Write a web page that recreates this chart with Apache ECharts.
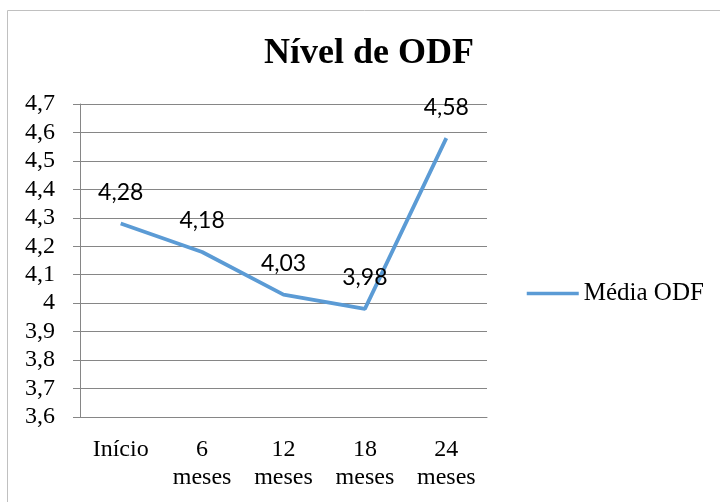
<!DOCTYPE html>
<html>
<head>
<meta charset="utf-8">
<script src="https://cdn.jsdelivr.net/npm/echarts@6/dist/echarts.min.js"></script>
<style>
  body { margin: 0; background: #fff; }
  #chart { width: 720px; height: 502px; }
</style>
</head>
<body>
<div id="chart"></div>
<script>
var categorias = ['Início', '6\nmeses', '12\nmeses', '18\nmeses', '24\nmeses'];
var mediaODF = [4.28, 4.18, 4.03, 3.98, 4.58];
var yMin = 3.6, yMax = 4.7, yPasso = 0.1;

function virgula(v) {
    return String(+(+v).toFixed(2)).replace('.', ',');
}

var chart = echarts.init(document.getElementById('chart'));
chart.setOption({
    animation: false,
    title: {
        text: 'Nível de ODF',
        left: 259,
        top: 31,
        textStyle: {
            fontFamily: 'Liberation Serif',
            fontSize: 36,
            fontWeight: 'bold',
            color: '#000'
        }
    },
    graphic: [{
        type: 'rect',
        shape: { x: 7.5, y: 10.5, width: 720, height: 500 },
        style: { fill: 'none', stroke: '#c0c0c0', lineWidth: 1 },
        silent: true
    }],
    legend: {
        data: ['Média ODF'],
        orient: 'vertical',
        left: 520,
        top: 276,
        itemWidth: 52,
        itemHeight: 14,
        lineStyle: { width: 3.5, color: '#5b9bd5' },
        textStyle: {
            fontFamily: 'Liberation Serif',
            fontSize: 25,
            color: '#000'
        }
    },
    grid: {
        left: 80,
        right: 233,
        top: 104,
        bottom: 85
    },
    xAxis: {
        type: 'category',
        data: categorias,
        axisLine: { lineStyle: { color: '#868686', width: 1 } },
        axisTick: { length: 8, lineStyle: { color: '#868686' } },
        axisLabel: {
            margin: 19,
            fontFamily: 'Liberation Serif',
            fontSize: 24,
            lineHeight: 28,
            color: '#000'
        }
    },
    yAxis: {
        type: 'value',
        min: yMin,
        max: yMax,
        interval: yPasso,
        axisLine: { show: true, lineStyle: { color: '#868686', width: 1 } },
        axisTick: { show: true, length: 7, lineStyle: { color: '#868686' } },
        splitLine: { lineStyle: { color: '#868686', width: 1 } },
        axisLabel: {
            margin: 25,
            fontFamily: 'Liberation Serif',
            fontSize: 24,
            color: '#000',
            formatter: function (v) { return String(+v.toFixed(1)).replace('.', ','); }
        }
    },
    series: [{
        name: 'Média ODF',
        type: 'line',
        data: mediaODF,
        symbol: 'circle',
        symbolSize: 1,
        showSymbol: true,
        itemStyle: { color: 'rgba(0,0,0,0)', borderWidth: 0 },
        lineStyle: { color: '#5b9bd5', width: 3.8 },
        label: {
            show: true,
            position: 'top',
            distance: 19,
            fontFamily: 'Lato',
            fontSize: 23,
            color: '#000',
            formatter: function (p) { return virgula(p.value); }
        }
    }]
});
</script>
</body>
</html>
